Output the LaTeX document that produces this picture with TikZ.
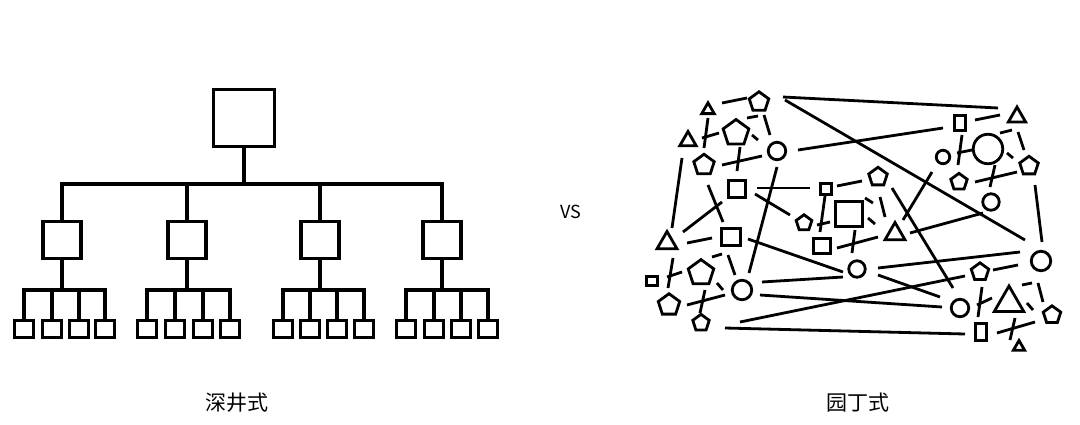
\documentclass[tikz,border=0pt]{standalone}
\usepackage{fontspec}
\newfontfamily\cjk{Noto Sans CJK SC}
\usetikzlibrary{shapes.geometric,calc}
\newcommand\lnk[4]{\draw[conn] ($(#1)+(#2)$) -- ($(#3)+(#4)$);}
\begin{document}
\begin{tikzpicture}[x=1pt,y=-1pt,
  tl/.style={line width=3.2pt},
  tbox/.style 2 args={draw,line width=3.2pt,rectangle,inner sep=0pt,minimum width=#1,minimum height=#2},
  g/.style={draw,line width=2.8pt,inner sep=0pt},
  sq/.style 2 args={g,rectangle,minimum width=#1,minimum height=#2},
  ci/.style={g,circle,minimum size=#1},
  tri/.style={g,regular polygon,regular polygon sides=3,minimum size=#1},
  pen/.style={g,regular polygon,regular polygon sides=5,minimum size=#1},
  conn/.style={line width=2.8pt},
  lbl/.style={font=\cjk\fontsize{21}{25}\selectfont}]
\useasboundingbox (0,0) rectangle (1080,424);

% ---------- tree ----------
\node[tbox={61pt}{57pt}] (root) at (244,118) {};
\coordinate (bar) at (244,184);
\draw[tl] (root) -- (bar);
\foreach \g/\mx/\a/\b/\c/\d in {1/62/24/52/79/105, 2/187/147/175/203/230, 3/320/283/310/337/364, 4/442/406/434/461/488}{
  \node[tbox={38pt}{37pt}] (m\g) at (\mx,240) {};
  \draw[tl] (bar) -| (m\g);
  \coordinate (k\g) at (\mx,290);
  \draw[tl] (m\g) -- (k\g);
  \foreach \x [count=\i] in {\a,\b,\c,\d}{
    \node[tbox={19pt}{17pt}] (l\g\i) at (\x,329) {};
    \draw[tl] (k\g) -| (l\g\i);
  }
}

% ---------- garden ----------
\node[tri=14.4pt] (t1) at (708,110) {};
\node[pen=20.5pt] (p1) at (759,102) {};
\node[tri=19pt] (t2) at (688,141) {};
\node[pen=27pt] (P2) at (736,133) {};
\node[ci=17.5pt] (c1) at (777,151) {};
\node[pen=21.5pt] (p3) at (704,165) {};
\node[sq={17.5pt}{16.5pt}] (s1) at (737,189) {};
\node[sq={10.5pt}{10.5pt}] (s2) at (826,189) {};
\node[pen=16.5pt] (p4) at (804,223) {};
\node[sq={26.5pt}{25.5pt}] (S3) at (849,214) {};
\node[sq={16.5pt}{15.5pt}] (s4) at (822,246) {};
\node[tri=23pt] (t3) at (895,234) {};
\node[ci=16.5pt] (c2) at (857,269) {};
\node[pen=19.5pt] (p5) at (878,177) {};
\node[sq={11.5pt}{15.5pt}] (s5) at (960,123) {};
\node[tri=20pt] (t4) at (1017,117) {};
\node[ci=29.5pt] (C3) at (988,149) {};
\node[ci=13.5pt] (c4) at (943,157) {};
\node[pen=19.5pt] (p6) at (1029,166) {};
\node[pen=17.3pt] (p7) at (959,182) {};
\node[ci=16.5pt] (c5) at (991,202) {};
\node[ci=19.5pt] (c6) at (1041,261) {};
\node[pen=18.4pt] (p8) at (980,272) {};
\node[ci=17.5pt] (c7) at (960,308) {};
\node[tri=34pt] (T5) at (1009,303) {};
\node[pen=18.4pt] (p9) at (1052,315) {};
\node[sq={11.5pt}{16.5pt}] (s6) at (981,332) {};
\node[tri=13pt] (t6) at (1019,347) {};
\node[tri=23pt] (t7) at (667,243) {};
\node[sq={18.5pt}{16.5pt}] (s7) at (731,237) {};
\node[sq={10.5pt}{9.5pt}] (s8) at (652,281) {};
\node[pen=26.8pt] (P10) at (701,273) {};
\node[ci=19.5pt] (c8) at (742,290) {};
\node[pen=22.6pt] (p11) at (669,305) {};
\node[pen=17.3pt] (p12) at (701,323) {};

\lnk{t1}{14,-7}{p1}{-12,-4}
\lnk{P2}{11,-15}{p1}{-1,14}
\lnk{p1}{5,13}{c1}{-7,-16}
\lnk{P2}{16,2}{c1}{-19,-11}
\lnk{t1}{0,8}{p3}{0,-17}
\lnk{t2}{14,-3}{P2}{-17,0}
\lnk{P2}{4,14}{s1}{0,-18}
\lnk{p3}{18,0}{c1}{-15,5}
\lnk{t2}{-6,17}{t7}{5,-15}
\lnk{p3}{4,20}{s7}{-8,-15}
\lnk{t7}{16,-11}{s1}{-15,13}
\lnk{s1}{20,-1}{s2}{-16,-1}
\lnk{c1}{0,16}{c8}{7,-17}
\lnk{s1}{18,5}{p4}{-14,-8}
\lnk{p1}{24,-5}{t4}{-19,-9}
\lnk{p1}{26,-2}{c6}{-16,-21}
\lnk{c1}{21,-1}{s5}{-17,5}
\lnk{s2}{11,-3}{p5}{-16,4}
\lnk{s2}{-1,7}{s4}{-2,-14}
\lnk{p4}{13,2}{S3}{-19,8}
\lnk{p5}{2,20}{t3}{-10,-17}
\lnk{p5}{14,11}{c7}{-7,-20}
\lnk{c4}{-11,15}{t3}{8,-14}
\lnk{s5}{15,-3}{t4}{-17,-2}
\lnk{C3}{12,-16}{t4}{-5,13}
\lnk{t4}{1,15}{p6}{-5,-16}
\lnk{C3}{19,4}{p6}{-16,-8}
\lnk{s5}{2,12}{p7}{-1,-17}
\lnk{c4}{14,-4}{C3}{-16,1}
\lnk{C3}{7,16}{c5}{-1,-15}
\lnk{p7}{16,0}{p6}{-12,6}
\lnk{p6}{6,19}{c6}{1,-19}
\lnk{t3}{15,-1}{c5}{-8,11}
\lnk{S3}{6,16}{c2}{-5,-16}
\lnk{s4}{15,2}{t3}{-17,3}
\lnk{s7}{17,2}{c2}{-14,3}
\lnk{c8}{20,-8}{c2}{-14,8}
\lnk{c2}{21,6}{c7}{-20,-11}
\lnk{c8}{18,5}{c7}{-18,-1}
\lnk{p12}{39,-1}{p8}{-15,4}
\lnk{p12}{24,5}{s6}{-16,2}
\lnk{p8}{13,-2}{c6}{-23,4}
\lnk{c7}{17,-3}{T5}{-17,-5}
\lnk{p8}{2,15}{s6}{-3,-15}
\lnk{T5}{13,-18}{c6}{-9,22}
\lnk{c6}{-3,22}{p9}{-9,-13}
\lnk{T5}{18,0}{p9}{-19,-5}
\lnk{s6}{16,1}{p9}{-17,7}
\lnk{T5}{6,15}{t6}{-9,-7}
\lnk{c2}{21,-1}{c6}{-21,-9}
\lnk{t7}{20,0}{s7}{-19,1}
\lnk{s7}{-3,18}{c8}{-7,-15}
\lnk{P10}{11,-16}{s7}{-9,17}
\lnk{P10}{16,10}{c8}{-19,0}
\lnk{t7}{6,15}{p11}{-1,-17}
\lnk{s8}{15,-4}{P10}{-19,-1}
\lnk{p11}{18,0}{c8}{-17,5}
\lnk{P10}{4,17}{p12}{-1,-10}
\lnk{S3}{16,-16}{S3}{24,-11}
\lnk{S3}{19,4}{t3}{-20,-10}

% ---------- labels ----------
\node[lbl] (n1) at (237,403) {深井式};
\node[lbl] (n2) at (858,403) {园丁式};
\node[font=\cjk\fontsize{18}{21}\selectfont] (vs) at (571,212) {VS};
\end{tikzpicture}
\end{document}
